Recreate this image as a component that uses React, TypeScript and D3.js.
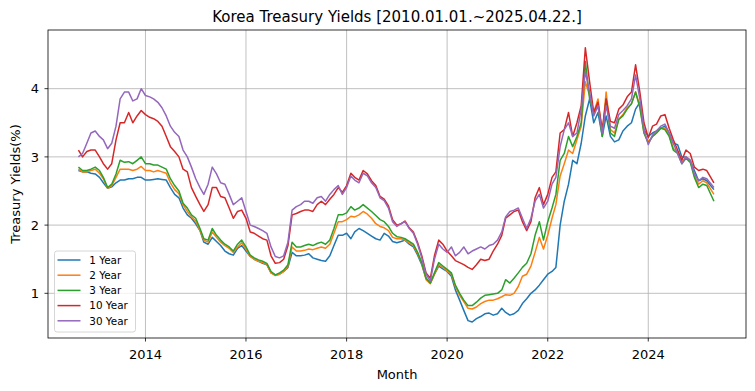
import React from 'react';
import * as d3 from 'd3';

// Monthly observations from Sep 2012 to Apr 2025 (last point = 2025-04-22)
const START_MONTH = new Date(2012, 8, 1);
const END_MONTH = new Date(2025, 3, 2);
const LAST_DATE = new Date(2025, 3, 22);
const DATES: Date[] = d3.timeMonth.range(START_MONTH, END_MONTH).map((d, i, a) => (i === a.length - 1 ? LAST_DATE : d));

const SERIES_NAMES = ['1 Year', '2 Year', '3 Year', '10 Year', '30 Year'];

const Y1 = [
  2.8, 2.78, 2.78, 2.76,
  2.75, 2.7, 2.62, 2.54, 2.56, 2.62, 2.66, 2.66, 2.68, 2.68, 2.7, 2.7,
  2.66, 2.66, 2.67, 2.68, 2.67, 2.66, 2.55, 2.45, 2.4, 2.25, 2.15, 2.1,
  2.02, 1.92, 1.75, 1.72, 1.82, 1.76, 1.7, 1.62, 1.58, 1.56, 1.66, 1.7,
  1.62, 1.54, 1.5, 1.47, 1.44, 1.42, 1.3, 1.27, 1.28, 1.32, 1.38, 1.6,
  1.55, 1.55, 1.56, 1.58, 1.52, 1.5, 1.48, 1.47, 1.55, 1.7, 1.85, 1.85,
  1.88, 1.8, 1.9, 1.95, 1.92, 1.88, 1.84, 1.8, 1.78, 1.88, 1.84, 1.76,
  1.74, 1.76, 1.78, 1.72, 1.68, 1.56, 1.42, 1.22, 1.15, 1.28, 1.4, 1.36,
  1.32, 1.25, 1.05, 0.9, 0.75, 0.6, 0.58, 0.63, 0.66, 0.7, 0.71, 0.68,
  0.7, 0.78, 0.72, 0.68, 0.7, 0.75, 0.85, 0.92, 1.0, 1.05, 1.12, 1.2,
  1.28, 1.32, 1.38, 2.0, 2.35, 2.6, 2.95, 2.9, 3.2, 3.6, 3.85, 3.5,
  3.65, 3.3, 3.6, 3.3, 3.22, 3.25, 3.38, 3.45, 3.5, 3.7, 3.8, 3.4,
  3.3, 3.35, 3.38, 3.42, 3.45, 3.35, 3.2, 3.18, 3.0, 3.0, 2.95, 2.8,
  2.65, 2.68, 2.65, 2.52,
];

const Y2 = [
  2.82, 2.78, 2.78, 2.8,
  2.82, 2.76, 2.68, 2.54, 2.58, 2.7, 2.82, 2.82, 2.82, 2.8, 2.82, 2.86,
  2.8, 2.8, 2.78, 2.8, 2.78, 2.76, 2.62, 2.52, 2.46, 2.3, 2.2, 2.12,
  2.06, 1.92, 1.78, 1.75, 1.9, 1.82, 1.75, 1.7, 1.66, 1.6, 1.68, 1.74,
  1.65, 1.54, 1.5, 1.47, 1.45, 1.42, 1.3, 1.26, 1.28, 1.32, 1.4, 1.68,
  1.62, 1.62, 1.63, 1.65, 1.64, 1.66, 1.68, 1.66, 1.72, 1.88, 2.05, 2.05,
  2.08, 2.13, 2.12, 2.15, 2.2, 2.16, 2.1, 2.02, 1.98, 1.96, 1.92, 1.82,
  1.8, 1.8, 1.78, 1.74, 1.7, 1.58, 1.44, 1.2, 1.14, 1.28, 1.42, 1.38,
  1.33, 1.28, 1.1, 0.97, 0.88, 0.78, 0.77, 0.8, 0.85, 0.88, 0.9, 0.9,
  0.92, 0.95, 0.98, 0.97, 1.0, 1.1, 1.25, 1.28, 1.4, 1.6, 1.82, 1.65,
  1.85, 2.1, 2.3, 2.72, 2.9, 3.1, 3.05, 3.25, 3.45, 4.1, 3.9, 3.65,
  3.85, 3.32, 3.95, 3.4, 3.35, 3.55, 3.62, 3.72, 3.78, 3.95, 3.75, 3.35,
  3.22, 3.3, 3.35, 3.42, 3.42, 3.32, 3.12, 3.08, 2.92, 3.0, 2.95, 2.72,
  2.6, 2.65, 2.62, 2.45,
];

const Y3 = [
  2.85, 2.8, 2.8, 2.82,
  2.85, 2.8, 2.7, 2.55, 2.6, 2.75, 2.95, 2.92, 2.93, 2.9, 2.95, 3.0,
  2.9, 2.9, 2.88, 2.88, 2.85, 2.82, 2.68, 2.58, 2.5, 2.32, 2.25, 2.15,
  2.1, 1.95, 1.8, 1.78, 1.95, 1.85, 1.78, 1.72, 1.68, 1.62, 1.72, 1.78,
  1.68, 1.56, 1.52, 1.49, 1.47, 1.44, 1.32, 1.27, 1.3, 1.34, 1.42, 1.75,
  1.68, 1.68, 1.7, 1.72, 1.7, 1.73, 1.75, 1.72, 1.78, 1.95, 2.15, 2.15,
  2.18, 2.27, 2.22, 2.25, 2.3, 2.25, 2.2, 2.14, 2.08, 2.05, 1.98, 1.88,
  1.83, 1.82, 1.8, 1.76, 1.72, 1.6, 1.45, 1.22, 1.15, 1.3, 1.45, 1.4,
  1.35, 1.3, 1.12, 1.0, 0.9, 0.82, 0.82, 0.87, 0.93, 0.97, 0.98, 0.99,
  1.0, 1.05, 1.2, 1.15, 1.22, 1.3, 1.38, 1.44, 1.58, 1.85, 2.05, 1.78,
  2.05, 2.25, 2.45, 2.95, 3.05, 3.3, 3.15, 3.3, 3.5, 4.4, 3.85, 3.65,
  3.75, 3.3, 3.85, 3.35, 3.3, 3.55, 3.6, 3.7, 3.78, 3.95, 3.72, 3.35,
  3.2, 3.3, 3.35, 3.42, 3.4, 3.3, 3.1, 3.05, 2.9, 2.98, 2.92, 2.7,
  2.55, 2.6, 2.58, 2.35,
];

const Y10 = [
  3.1, 3.0, 3.08, 3.1,
  3.1, 3.0, 2.9, 2.82, 2.9, 3.25, 3.5, 3.5, 3.65, 3.5, 3.6, 3.68,
  3.62, 3.58, 3.56, 3.52, 3.45, 3.3, 3.15, 3.08, 3.0, 2.82, 2.78, 2.55,
  2.42, 2.3, 2.2, 2.3, 2.55, 2.55, 2.42, 2.4, 2.25, 2.1, 2.2, 2.22,
  2.1, 1.9, 1.88, 1.84, 1.8, 1.78, 1.55, 1.44, 1.45, 1.5, 1.7, 2.15,
  2.17, 2.2, 2.22, 2.22, 2.2, 2.3, 2.35, 2.3, 2.38, 2.45, 2.55, 2.48,
  2.58, 2.76, 2.7, 2.66, 2.8, 2.75, 2.65, 2.58, 2.42, 2.38, 2.28, 2.08,
  2.0, 2.02, 2.06, 1.96, 1.9, 1.74, 1.55, 1.3, 1.22, 1.55, 1.78, 1.72,
  1.62, 1.55, 1.48, 1.45, 1.42, 1.38, 1.35, 1.42, 1.5, 1.48, 1.5, 1.62,
  1.72, 1.85, 2.1, 2.15, 2.2, 2.22, 2.05, 1.92, 2.05, 2.4, 2.55, 2.3,
  2.45, 2.7, 2.78, 3.35, 3.4, 3.65, 3.3, 3.5, 3.75, 4.6, 4.1, 3.65,
  3.8, 3.4, 3.85, 3.52, 3.5, 3.7, 3.76, 3.88, 3.95, 4.35, 3.95, 3.5,
  3.28, 3.45, 3.48, 3.6, 3.62, 3.42, 3.25, 3.1, 2.95, 3.1, 3.05, 2.85,
  2.8, 2.82, 2.8, 2.62,
];

const Y30 = [
  3.0, 3.05, 3.2, 3.35,
  3.38, 3.3, 3.25, 3.12, 3.2, 3.45, 3.85, 3.95, 3.95, 3.82, 3.85, 4.0,
  3.9, 3.88, 3.85, 3.8, 3.72, 3.6, 3.45, 3.36, 3.3, 3.1, 3.0, 2.85,
  2.68, 2.55, 2.45, 2.6, 2.85, 2.75, 2.62, 2.6, 2.45, 2.3, 2.35, 2.4,
  2.2, 2.0, 1.98, 1.95, 1.92, 1.88, 1.68, 1.54, 1.52, 1.55, 1.75, 2.22,
  2.27, 2.3, 2.35, 2.35, 2.32, 2.4, 2.42, 2.35, 2.45, 2.52, 2.58, 2.45,
  2.55, 2.72, 2.66, 2.62, 2.76, 2.72, 2.62, 2.55, 2.4, 2.36, 2.25, 2.05,
  1.98, 2.02, 2.05, 1.95, 1.88, 1.72, 1.52, 1.28, 1.18, 1.5, 1.72, 1.65,
  1.6, 1.68, 1.55, 1.6, 1.68, 1.58, 1.62, 1.65, 1.68, 1.65, 1.7, 1.72,
  1.78, 1.9, 2.12, 2.2, 2.22, 2.25, 2.1, 1.95, 2.1, 2.35, 2.45, 2.25,
  2.35, 2.6, 2.7, 3.15, 3.4, 3.5, 3.3, 3.35, 3.7, 4.25, 3.95, 3.6,
  3.75, 3.35, 3.75, 3.45, 3.42, 3.62, 3.68, 3.75, 3.85, 4.2, 3.85, 3.4,
  3.18, 3.32, 3.38, 3.45, 3.48, 3.35, 3.2, 3.05, 2.9, 3.0, 2.95, 2.75,
  2.65, 2.7, 2.68, 2.55,
];

const SERIES_VALUES = [Y1, Y2, Y3, Y10, Y30];
const X_TICKS = [2014, 2016, 2018, 2020, 2022, 2024];
const Y_TICKS = [1, 2, 3, 4];
const TITLE = 'Korea Treasury Yields [2010.01.01.~2025.04.22.]';
const X_LABEL = 'Month';
const Y_LABEL = 'Treasury Yields(%)';

const COLORS = ['#1f77b4', '#ff7f0e', '#2ca02c', '#d62728', '#9467bd'];
const W = 755;
const H = 391;
const M = { left: 48, right: 9, top: 30, bottom: 53 };
const FONT = '"DejaVu Sans", sans-serif';

export default function App() {
  const pw = W - M.left - M.right;
  const ph = H - M.top - M.bottom;
  const x = d3.scaleTime().domain([new Date(2012, 0, 24), new Date(2025, 11, 11)]).range([M.left, M.left + pw]);
  const y = d3.scaleLinear().domain([0.345, 4.86]).range([M.top + ph, M.top]);
  const line = d3
    .line<number>()
    .x((_, i) => x(DATES[i]))
    .y((v) => y(v));

  return (
    <svg width={W} height={H} style={{ position: 'absolute', left: 0, top: 0, background: '#fff' }} fontFamily={FONT}>
      <rect x={0} y={0} width={W} height={H} fill="#fff" />
      {/* grid */}
      <g stroke="#b0b0b0" strokeWidth={0.8}>
        {X_TICKS.map((t) => {
          const px = x(new Date(t, 0, 1));
          return <line key={'gx' + t} x1={px} x2={px} y1={M.top} y2={M.top + ph} />;
        })}
        {Y_TICKS.map((t) => (
          <line key={'gy' + t} x1={M.left} x2={M.left + pw} y1={y(t)} y2={y(t)} />
        ))}
      </g>
      {/* series */}
      <g fill="none" strokeWidth={1.5} strokeLinejoin="round">
        {SERIES_VALUES.map((vals, i) => (
          <path key={SERIES_NAMES[i]} d={line(vals) || ''} stroke={COLORS[i]} />
        ))}
      </g>
      {/* frame */}
      <rect x={M.left} y={M.top} width={pw} height={ph} fill="none" stroke="#000" strokeWidth={0.8} />
      {/* ticks */}
      <g stroke="#000" strokeWidth={0.8}>
        {X_TICKS.map((t) => {
          const px = x(new Date(t, 0, 1));
          return <line key={'tx' + t} x1={px} x2={px} y1={M.top + ph} y2={M.top + ph + 3.5} />;
        })}
        {Y_TICKS.map((t) => (
          <line key={'ty' + t} x1={M.left - 3.5} x2={M.left} y1={y(t)} y2={y(t)} />
        ))}
      </g>
      <g fontSize={13} fill="#000">
        {X_TICKS.map((t) => (
          <text key={'lx' + t} x={x(new Date(t, 0, 1))} y={M.top + ph + 21} textAnchor="middle">
            {t}
          </text>
        ))}
        {Y_TICKS.map((t) => (
          <text key={'ly' + t} x={M.left - 9} y={y(t)} dy="0.36em" textAnchor="end">
            {t}
          </text>
        ))}
      </g>
      <text x={M.left + pw / 2} y={22} textAnchor="middle" fontSize={15}>
        {TITLE}
      </text>
      <text x={M.left + pw / 2} y={379} textAnchor="middle" fontSize={13}>
        {X_LABEL}
      </text>
      <text transform={`translate(19.5, ${M.top + ph / 2}) rotate(-90)`} textAnchor="middle" fontSize={13}>
        {Y_LABEL}
      </text>
      {/* legend */}
      <g>
        <rect x={54.5} y={251} width={81} height={81} rx={2.5} fill="#fff" fillOpacity={0.8} stroke="#cccccc" strokeWidth={0.8} />
        {SERIES_NAMES.map((name, i) => {
          const ly = 260 + i * 15.2;
          return (
            <g key={'lg' + name}>
              <line x1={57.5} x2={80.5} y1={ly} y2={ly} stroke={COLORS[i]} strokeWidth={1.5} />
              <text x={89.3} y={ly} dy="0.36em" fontSize={10.4}>
                {name}
              </text>
            </g>
          );
        })}
      </g>
    </svg>
  );
}
